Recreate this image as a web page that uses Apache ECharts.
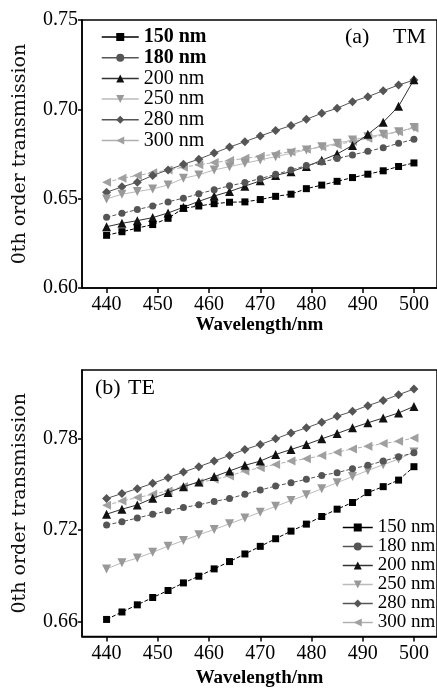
<!DOCTYPE html>
<html>
<head>
<meta charset="utf-8">
<script src="https://cdn.jsdelivr.net/npm/echarts@6/dist/echarts.min.js"></script>
<style>
html,body{margin:0;padding:0;background:#fff;}
#chart{width:437px;height:689px;}
</style>
</head>
<body>
<div id="chart"></div>
<script>
// ---- data ----
const wavelengths = [440,443,446,449,452,455,458,461,464,467,470,473,476,479,482,485,488,491,494,497,500];
const seriesNames = ['150 nm','180 nm','200 nm','250 nm','280 nm','300 nm'];

// (a) TM
const tm150 = [0.6295,0.6315,0.6335,0.6355,0.6390,0.6446,0.6459,0.6472,0.6480,0.6482,0.6495,0.6513,0.6525,0.6556,0.6576,0.6597,0.6618,0.6637,0.6656,0.6680,0.6700];
const tm180 = [0.6396,0.6418,0.6439,0.6459,0.6482,0.6503,0.6527,0.6550,0.6572,0.6590,0.6612,0.6636,0.6660,0.6685,0.6705,0.6725,0.6745,0.6765,0.6785,0.6810,0.6832];
const tm200 = [0.6343,0.6362,0.6377,0.6394,0.6420,0.6452,0.6485,0.6515,0.6540,0.6570,0.6600,0.6630,0.6651,0.6680,0.6715,0.6750,0.6798,0.6860,0.6928,0.7017,0.7166];
const tm250 = [0.6498,0.6525,0.6540,0.6554,0.6577,0.6614,0.6633,0.6661,0.6679,0.6698,0.6717,0.6735,0.6754,0.6773,0.6791,0.6810,0.6828,0.6847,0.6860,0.6875,0.6898];
const tm280 = [0.6536,0.6566,0.6592,0.6630,0.6661,0.6692,0.6721,0.6755,0.6789,0.6819,0.6851,0.6881,0.6909,0.6944,0.6978,0.7006,0.7043,0.7071,0.7104,0.7136,0.7164];
const tm300 = [0.6592,0.6614,0.6629,0.6645,0.6660,0.6676,0.6690,0.6702,0.6713,0.6726,0.6737,0.6750,0.6763,0.6776,0.6790,0.6802,0.6820,0.6838,0.6856,0.6875,0.6896];

// (b) TE
const te150 = [0.6612,0.6661,0.6708,0.6756,0.6802,0.6852,0.6896,0.6944,0.6992,0.7042,0.7092,0.7142,0.7192,0.7238,0.7288,0.7336,0.7380,0.7445,0.7484,0.7527,0.7615];
const te180 = [0.7232,0.7254,0.7278,0.7303,0.7325,0.7347,0.7365,0.7387,0.7406,0.7434,0.7462,0.7488,0.7510,0.7532,0.7558,0.7576,0.7602,0.7624,0.7652,0.7680,0.7706];
const te200 = [0.7303,0.7336,0.7364,0.7408,0.7445,0.7484,0.7515,0.7550,0.7587,0.7624,0.7652,0.7695,0.7728,0.7761,0.7798,0.7833,0.7870,0.7903,0.7935,0.7968,0.8011];
const te250 = [0.6944,0.6985,0.7015,0.7053,0.7093,0.7130,0.7168,0.7203,0.7240,0.7278,0.7316,0.7355,0.7393,0.7430,0.7470,0.7510,0.7550,0.7590,0.7628,0.7665,0.7712];
const te280 = [0.7406,0.7439,0.7471,0.7506,0.7543,0.7580,0.7615,0.7652,0.7689,0.7728,0.7761,0.7798,0.7837,0.7870,0.7907,0.7946,0.7979,0.8016,0.8050,0.8088,0.8125];
const te300 = [0.7362,0.7390,0.7412,0.7434,0.7456,0.7485,0.7510,0.7532,0.7554,0.7587,0.7608,0.7630,0.7652,0.7667,0.7689,0.7710,0.7732,0.7750,0.7767,0.7782,0.7804];

const xTicks = [440,450,460,470,480,490,500];
const yTicksTM = [0.60,0.65,0.70,0.75];
const yTicksTE = [0.66,0.72,0.78];

// ---- styles ----
const FONT = '"Liberation Serif","Times New Roman",serif';
const WIDEFONT = '"DejaVu Serif",serif';
const styles = [
  {symbol:'rect', size:7, color:'#000', line:'#000', type:[4,2]},
  {symbol:'circle', size:7, color:'#555', line:'#555', type:[4,2]},
  {symbol:'triangle', size:9, color:'#111', line:'#333', type:'solid'},
  {symbol:'path://M0,0L10,0L5,8.66Z', size:9, color:'#999', line:'#bbb', type:'solid'},
  {symbol:'diamond', size:9, color:'#555', line:'#555', type:'solid'},
  {symbol:'path://M0,5L8.66,0L8.66,10Z', size:9, color:'#a0a0a0', line:'#b0b0b0', type:[4,2]}
];
const tmData = [tm150,tm180,tm200,tm250,tm280,tm300];
const teData = [te150,te180,te200,te250,te280,te300];

function mkSeries(arrs, idx){
  return arrs.map((arr,i)=>({
    type:'line', name:seriesNames[i], xAxisIndex:idx, yAxisIndex:idx,
    data: wavelengths.map((w,k)=>[w, arr[k]]),
    symbol: styles[i].symbol, symbolSize: styles[i].size,
    itemStyle:{color:styles[i].color},
    lineStyle:{color:styles[i].line, width:1, type:styles[i].type},
    animation:false, z: 10 - i
  }));
}

function xAxis(idx, gap){
  return {
    type:'value', gridIndex:idx, min:435.2, max:504.5,
    axisLine:{show:true, onZero:false, lineStyle:{color:'#000', width:1.5}},
    axisTick:{show:true, inside:false, length:5, customValues:xTicks, lineStyle:{color:'#000', width:1.5}},
    axisLabel:{customValues:xTicks, fontFamily:FONT, fontSize:20, color:'#000', margin:7},
    splitLine:{show:false},
    name:'Wavelength/nm', nameLocation:'middle', nameGap:gap,
    nameTextStyle:{fontFamily:FONT, fontSize:19, fontWeight:'bold', color:'#000'}
  };
}
function yAxis(idx, min, max, ticks){
  return {
    type:'value', gridIndex:idx, min:min, max:max,
    axisLine:{show:true, onZero:false, lineStyle:{color:'#000', width:1.5}},
    axisTick:{show:true, inside:false, length:4, customValues:ticks, lineStyle:{color:'#000', width:1.5}},
    axisLabel:{customValues:ticks, fontFamily:FONT, fontSize:20, color:'#000', margin:4,
      formatter:(v)=>v.toFixed(2)},
    splitLine:{show:false},
    name:'0th order transmission', nameLocation:'middle', nameGap:52,
    nameTextStyle:{fontFamily:WIDEFONT, fontSize:19, color:'#111'}
  };
}

const tStyle = {fontFamily:FONT, fontSize:22, fontWeight:'normal', color:'#000'};

const chart = echarts.init(document.getElementById('chart'), null, {renderer:'canvas'});
chart.setOption({
  backgroundColor:'#fff',
  animation:false,
  title:[
    {text:'(a)', left:340, top:21, textStyle:tStyle},
    {text:'TM', left:388, top:21, textStyle:tStyle},
    {text:'(b)', left:90, top:372, textStyle:tStyle},
    {text:'TE', left:123, top:372, textStyle:tStyle}
  ],
  grid:[
    {left:82, top:20, width:360.4, height:268, show:true, borderColor:'#000', borderWidth:1.5, backgroundColor:'transparent'},
    {left:82, top:370, width:360.4, height:268, show:true, borderColor:'#000', borderWidth:1.5, backgroundColor:'transparent'}
  ],
  xAxis:[xAxis(0, 27.5), xAxis(1, 32.5)],
  yAxis:[yAxis(0, 0.60, 0.75, yTicksTM), yAxis(1, 0.65, 0.825, yTicksTE)],
  legend:[
    {orient:'vertical', left:96, top:22, itemWidth:37, itemHeight:10, itemGap:0.7,
     selectedMode:false,
     lineStyle:{type:'solid', width:1.5},
     textStyle:{fontFamily:FONT, fontSize:20, color:'#000'},
     data:seriesNames.map((n,i)=>({name:n, textStyle: i<2 ? {fontWeight:'bold'} : {}}))},
    {orient:'vertical', left:337, top:513, itemWidth:30, itemHeight:10, itemGap:0,
     selectedMode:false,
     lineStyle:{type:'solid', width:1.5},
     textStyle:{fontFamily:FONT, fontSize:19, color:'#000'},
     data:seriesNames}
  ],
  series:[...mkSeries(tmData,0), ...mkSeries(teData,1)]
});
</script>
</body>
</html>
